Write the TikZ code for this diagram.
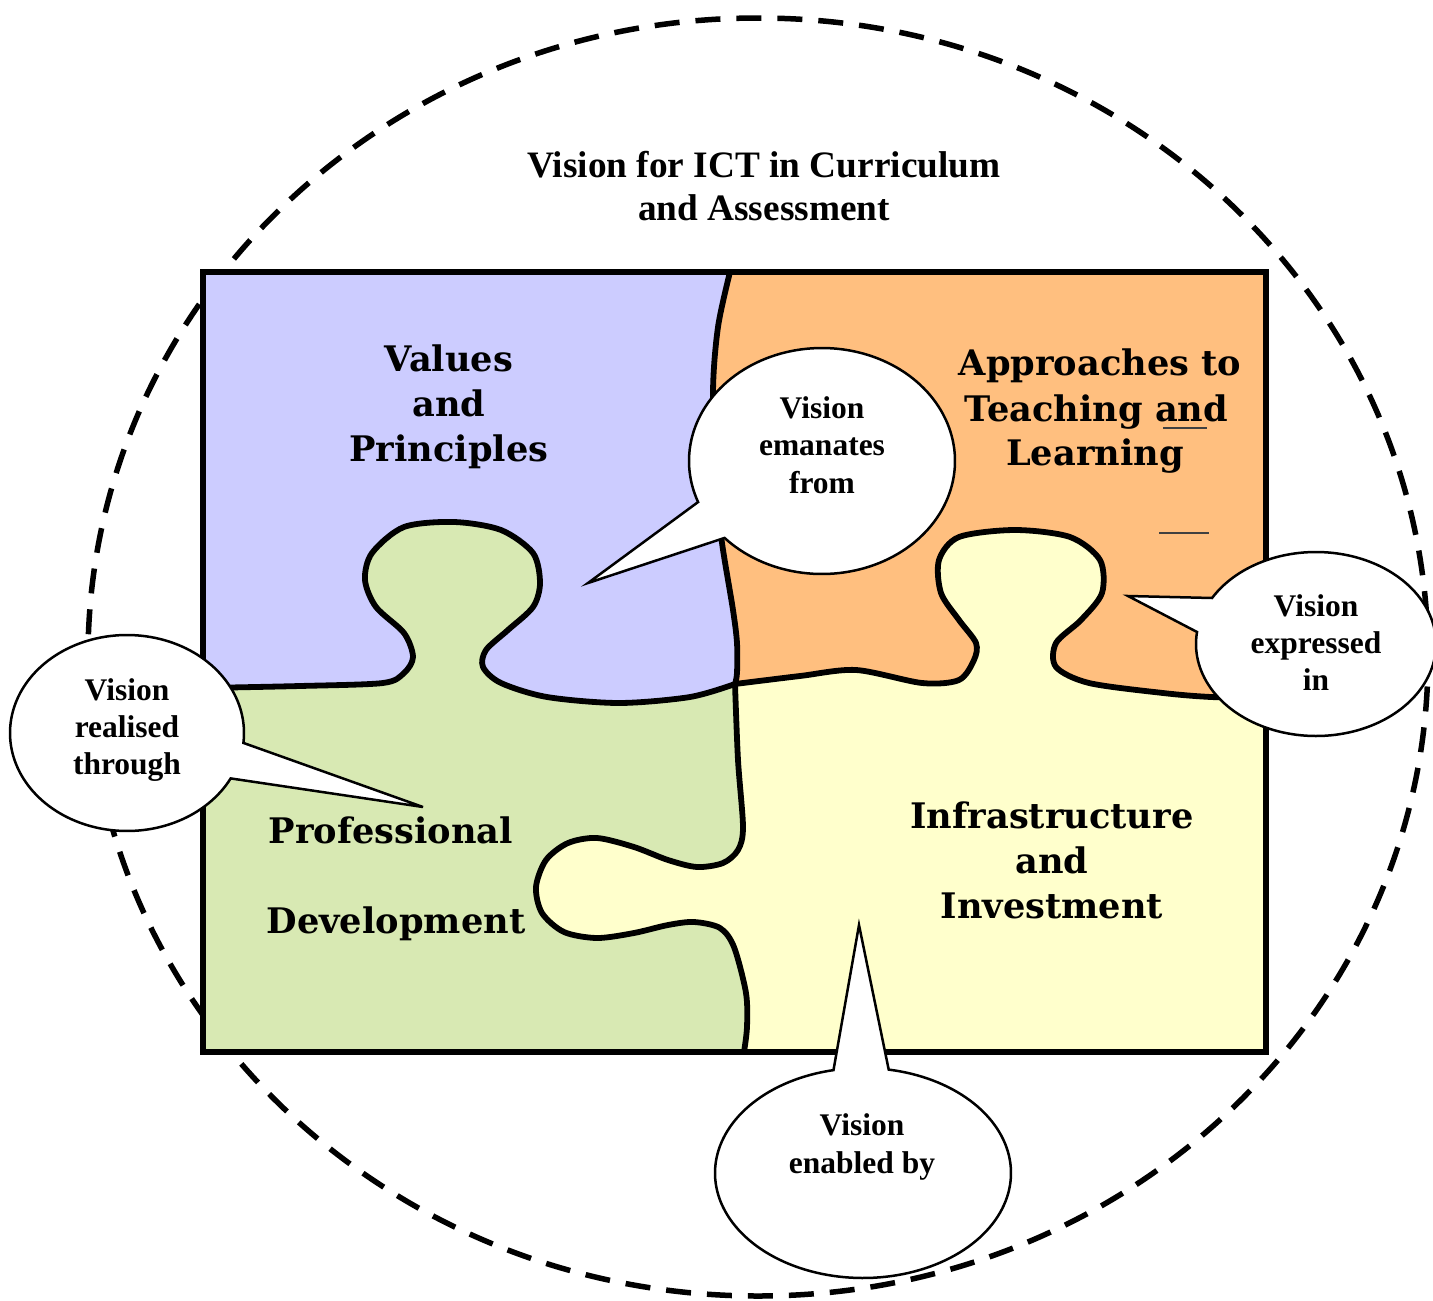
\documentclass[tikz,border=0pt]{standalone}
\usepackage{fontspec}
\setmainfont{Liberation Serif}
\newfontfamily\pzfont{DejaVu Serif}
\definecolor{pzblue}{HTML}{CCCCFF}
\definecolor{pzorange}{HTML}{FFBF7F}
\definecolor{pzgreen}{HTML}{D8E9B3}
\definecolor{pzyellow}{HTML}{FFFFCC}
\begin{document}
\begin{tikzpicture}[x=1pt,y=-1pt,
  divider/.style={line width=5.8pt, line cap=round, line join=round},
  bubble/.style={fill=white, draw=black, line width=2.5pt, line join=miter},
  calltext/.style={font=\bfseries\fontsize{31.5}{37.5}\selectfont, anchor=base, inner sep=0pt},
  piecetext/.style={font=\pzfont\bfseries\fontsize{35.2}{45}\selectfont, anchor=base, inner sep=0pt},
  titletext/.style={font=\bfseries\fontsize{37.3}{43}\selectfont, anchor=base, inner sep=0pt},
]
\useasboundingbox (0,0) rectangle (1433,1301);

% outer dashed ring
\draw[line width=5.5pt, dash pattern=on 25pt off 16pt]
  (758,657) ellipse [x radius=670pt, y radius=639pt];

% puzzle pieces
\fill[pzyellow] (203,272) rectangle (1266,1052);
\fill[pzorange]
  plot[smooth] coordinates {(730,272) (718,327) (713,393) (717,493) (722,543) (733,610) (737,643) (737,673) (735,684)}
  -- plot[smooth] coordinates {(735,684) (800,676) (856,670) (922,683) (959,680) (974,660) (976,643) (959,620) (941,593) (939,560) (959,537) (1015,530) (1070,537) (1100,560) (1102,593) (1081,620) (1056,643) (1056,667) (1089,683) (1163,693) (1211,697) (1266,698)}
  -- (1266,272) -- cycle;
\fill[pzblue]
  (203,272) -- plot[smooth] coordinates {(730,272) (718,327) (713,393) (717,493) (722,543) (733,610) (737,643) (737,673) (735,684)}
  -- plot[smooth] coordinates {(735,684) (690,697) (619,703) (547,697) (501,683) (483,667) (486,650) (508,630) (533,607) (540,583) (533,553) (501,530) (454,522) (404,527) (372,553) (365,580) (376,607) (404,633) (413,657) (404,673) (383,683) (300,686) (203,688)}
  -- cycle;
\fill[pzgreen]
  plot[smooth] coordinates {(203,688) (300,686) (383,683) (404,673) (413,657) (404,633) (376,607) (365,580) (372,553) (404,527) (454,522) (501,530) (533,553) (540,583) (533,607) (508,630) (486,650) (483,667) (501,683) (547,697) (619,703) (690,697) (735,684)}
  -- plot[smooth] coordinates {(735,684) (738,760) (743,827) (738,850) (723,863) (697,867) (668,860) (634,847) (597,838) (568,843) (546,860) (536,887) (542,913) (564,932) (597,938) (634,933) (668,925) (694,922) (720,928) (734,947) (746,993) (747,1027) (744,1052)}
  -- (203,1052) -- cycle;

% faint strokes on the orange piece
\draw[line width=1.3pt, black!75] (1163,428) -- (1207,428);
\draw[line width=1.3pt, black!75] (1159,533) -- (1209,533);

% piece borders
\draw[divider] plot[smooth] coordinates {(730,272) (718,327) (713,393) (717,493) (722,543) (733,610) (737,643) (737,673) (735,684)};
\draw[divider] plot[smooth] coordinates {(203,688) (300,686) (383,683) (404,673) (413,657) (404,633) (376,607) (365,580) (372,553) (404,527) (454,522) (501,530) (533,553) (540,583) (533,607) (508,630) (486,650) (483,667) (501,683) (547,697) (619,703) (690,697) (735,684)};
\draw[divider] plot[smooth] coordinates {(735,684) (800,676) (856,670) (922,683) (959,680) (974,660) (976,643) (959,620) (941,593) (939,560) (959,537) (1015,530) (1070,537) (1100,560) (1102,593) (1081,620) (1056,643) (1056,667) (1089,683) (1163,693) (1211,697) (1266,698)};
\draw[divider] plot[smooth] coordinates {(735,684) (738,760) (743,827) (738,850) (723,863) (697,867) (668,860) (634,847) (597,838) (568,843) (546,860) (536,887) (542,913) (564,932) (597,938) (634,933) (668,925) (694,922) (720,928) (734,947) (746,993) (747,1027) (744,1052)};

% frame
\draw[line width=6.5pt] (203,272) rectangle (1266,1052);

% speech bubbles
\coordinate (tipA) at (588,583);
\coordinate (tipB) at (1128,596);
\coordinate (tipC) at (423,807);
\coordinate (tipD) at (859,925);
\filldraw[bubble] (tipA) -- plot[domain=158.7:497.1, samples=150, variable=\t] ({822+133*cos(\t)},{461+113*sin(\t)}) -- cycle;
\filldraw[bubble] (tipB) -- plot[domain=210:547.5, samples=150, variable=\t] ({1316+120*cos(\t)},{644+92*sin(\t)}) -- cycle;
\filldraw[bubble] (tipC) -- plot[domain=27.6:365.8, samples=150, variable=\t] ({127+117*cos(\t)},{733+98*sin(\t)}) -- cycle;
\filldraw[bubble] (tipD) -- plot[domain=280:618.5, samples=150, variable=\t] ({863+148*cos(\t)},{1173+105*sin(\t)}) -- cycle;

% title
\node[titletext] (t1) at (764,177.5) {Vision for ICT in Curriculum};
\node[titletext] (t2) at (764,220.5) {and Assessment};

% bubble texts
\node[calltext] (a1) at (822,418) {Vision};
\node[calltext] (a2) at (822,455.5) {emanates};
\node[calltext] (a3) at (822,493) {from};
\node[calltext] (b1) at (1316,616.5) {Vision};
\node[calltext] (b2) at (1316,653.5) {expressed};
\node[calltext] (b3) at (1316,690.5) {in};
\node[calltext] (c1) at (127,700) {Vision};
\node[calltext] (c2) at (127,737) {realised};
\node[calltext] (c3) at (127,774) {through};
\node[calltext] (d1) at (862,1135) {Vision};
\node[calltext] (d2) at (862,1173) {enabled by};

% piece labels
\node[piecetext] (p1) at (449,371.5) {Values};
\node[piecetext] (p2) at (449,416.5) {and};
\node[piecetext] (p3) at (449,461.5) {Principles};
\node[piecetext] (q1) at (1100,375) {Approaches to};
\node[piecetext] (q2) at (1096.5,421) {Teaching and};
\node[piecetext] (q3) at (1095,465) {Learning};
\node[piecetext] (r1) at (391,843) {Professional};
\node[piecetext] (r2) at (396,933) {Development};
\node[piecetext] (s1) at (1052,828) {Infrastructure};
\node[piecetext] (s2) at (1052,873) {and};
\node[piecetext] (s3) at (1052,918) {Investment};
\end{tikzpicture}
\end{document}
